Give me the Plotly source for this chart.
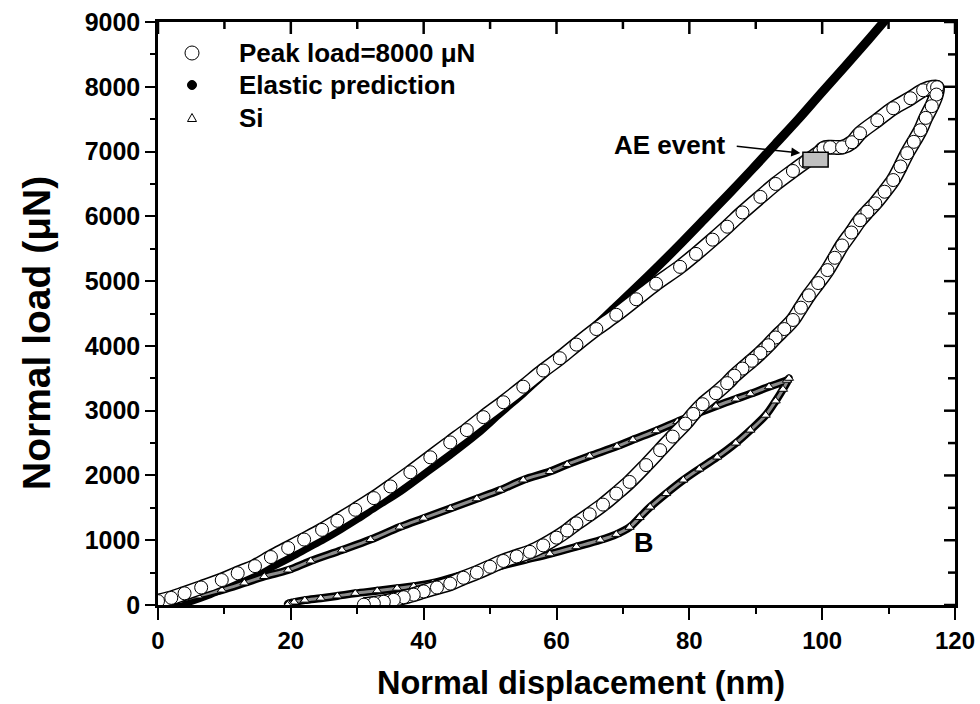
import plotly.graph_objects as go

# ---------------- data ----------------
elastic_x = [1, 3, 5, 7.5, 10, 12.5, 15, 17.5, 20, 22.5, 25, 27.5, 30, 33, 36.4, 40, 44, 48, 51.5, 55, 58,
             61.6, 65, 68.5, 72, 75.5, 79, 82.5, 86, 89.5, 93, 96.5, 100, 103.5, 107, 110.5]
elastic_y = [0, 10, 70, 160, 270, 380, 500, 620, 750, 890, 1030, 1180, 1340, 1540, 1760, 2030, 2330, 2650,
             2970, 3280, 3560, 3890, 4220, 4560, 4900, 5250, 5610, 5980, 6350, 6730, 7120, 7510, 7920,
             8320, 8730, 9150]

peak_load_x = [0, 2, 4, 6.5, 9.6, 12, 14.6, 17, 19.6, 22, 24.7, 27, 29.7, 32.5, 35, 38, 41, 44, 46.5, 49,
               52, 55, 58, 60.5, 63, 66, 69, 72, 75, 78.6, 81, 83.5, 85.7, 88, 90.7, 93, 95.6, 97.5,
               98.8, 99.6, 100.2, 101.2, 103.0, 104.5, 105.7, 108.3, 110.7, 113.3, 115.2, 116.7, 117.3,
               117.2, 116.5, 115.6, 114.8, 113.8, 112.8, 111.8, 110.7, 109.4, 108, 106.8, 105.7, 104.4, 103,
               101.9, 100.8, 99.4, 98, 96.8, 95.6, 94.3, 93, 91.9, 90.7, 89.4, 88, 86.8, 85.7, 84, 82, 80.6,
               79.4, 77.5, 75.6, 73.5, 71, 69, 67, 65, 63, 61.6, 60, 58, 56, 54, 52, 50, 48, 46, 44, 42, 40,
               38.5, 37, 35.5, 34, 32.5, 31]
peak_load_y = [60, 110, 180, 270, 385, 490, 600, 740, 880, 1010, 1160, 1300, 1470, 1650, 1830, 2050, 2280, 2510,
               2700, 2900, 3130, 3370, 3620, 3810, 4020, 4260, 4480, 4720, 4960, 5220, 5420, 5640, 5840, 6060,
               6300, 6500, 6700, 6840, 6930, 6990, 7050, 7067, 7067, 7144, 7283, 7484, 7669, 7823, 7946, 7993,
               7993, 7880, 7700, 7520, 7330, 7150, 6975, 6770, 6560, 6380, 6200, 6070, 5940, 5750, 5550,
               5360, 5170, 4970, 4780, 4590, 4400, 4260, 4130, 4010, 3890, 3770, 3650, 3540, 3425, 3270, 3100,
               2950, 2800, 2600, 2390, 2160, 1900, 1720, 1550, 1400, 1260, 1150, 1040, 920, 820, 750, 680,
               590, 500, 420, 330, 270, 210, 160, 120, 80, 50, 25, 5]

si_x = [0, 3, 6, 9.6, 13, 16, 19.6, 23, 27.7, 32, 36.4, 40, 44, 48, 51.5, 55, 59, 61.6, 65, 69.1, 71.5,
        75, 78.2, 81, 84, 87, 89.2, 92, 94.7, 95,
        94.1, 93, 91.5, 89.2, 87, 84.2, 81.5, 79.1, 76.5, 74.1, 72.5, 71, 69, 66.6, 63, 59, 55, 51.5, 48,
        45, 41.4, 38.5, 36, 33, 29.7, 27, 24.5, 22.1, 20.5, 19.6, 19.5]
si_y = [0, 60, 140, 231, 340, 440, 540, 680, 849, 1010, 1204, 1340, 1490, 1640, 1774, 1930, 2060, 2170,
        2300, 2450, 2550, 2690, 2830, 2950, 3070, 3180, 3260, 3370, 3470, 3500,
        3330, 3150, 2930, 2700, 2500, 2284, 2100, 1929, 1720, 1512, 1350, 1200, 1090, 1003, 900, 790, 690,
        600, 510, 440, 340, 290, 260, 220, 180, 140, 105, 75, 45, 20, 0]

x_ticks = [0, 20, 40, 60, 80, 100, 120]
y_ticks = [0, 1000, 2000, 3000, 4000, 5000, 6000, 7000, 8000, 9000]

legend_labels = ["Peak load=8000 μN", "Elastic prediction", "Si"]

ae_box_x = [97.1, 100.9]
ae_box_y = [6760, 6990]
ae_arrow_head = (96.7, 6977)
b_label_xy = (73.2, 957)

# ---------------- figure ----------------
FONT = "Liberation Sans, Arial, Helvetica, sans-serif"
L, R, T, B = 158, 25, 22, 99
W, H = 980, 704
PW, PH = W - L - R, H - T - B
X_RANGE = [x_ticks[0], x_ticks[-1]]
Y_RANGE = [y_ticks[0], y_ticks[-1]]


def px(xp):
    return (xp - L) / PW


def py(yp):
    return (H - B - yp) / PH


fig = go.Figure()

# elastic prediction: dense filled circles -> thick black band
fig.add_trace(go.Scatter(x=elastic_x, y=elastic_y, mode="lines", name="Elastic prediction",
                         line=dict(color="black", width=9, shape="spline"), showlegend=False, hoverinfo="skip"))

# Si (triangles)
fig.add_trace(go.Scatter(x=si_x, y=si_y, mode="lines", line=dict(color="black", width=8, shape="spline"),
                         showlegend=False, hoverinfo="skip"))
fig.add_trace(go.Scatter(x=si_x, y=si_y, mode="lines", line=dict(color="#8c8c8c", width=3, shape="spline"),
                         showlegend=False, hoverinfo="skip"))
fig.add_trace(go.Scatter(x=si_x, y=si_y, mode="markers", name="Si",
                         marker=dict(symbol="triangle-up", size=8, color="white", line=dict(color="black", width=1)),
                         showlegend=False))

# peak load (open circles)
fig.add_trace(go.Scatter(x=peak_load_x, y=peak_load_y, mode="lines",
                         line=dict(color="black", width=15, shape="spline"), showlegend=False, hoverinfo="skip"))
fig.add_trace(go.Scatter(x=peak_load_x, y=peak_load_y, mode="lines",
                         line=dict(color="white", width=12, shape="spline"), showlegend=False, hoverinfo="skip"))
fig.add_trace(go.Scatter(x=peak_load_x, y=peak_load_y, mode="markers", name="Peak load=8000 μN",
                         marker=dict(symbol="circle", size=13, color="white", line=dict(color="black", width=1)),
                         showlegend=False))

# mirrored inward ticks on the top and right frame edges, built from the tick arrays
x_minor = [(a + b) / 2 for a, b in zip(x_ticks, x_ticks[1:])]
y_minor = [(a + b) / 2 for a, b in zip(y_ticks, y_ticks[1:])]
ypp = (Y_RANGE[1] - Y_RANGE[0]) / PH   # data units per pixel (y)
xpp = (X_RANGE[1] - X_RANGE[0]) / PW   # data units per pixel (x)
tx, ty = [], []
for v, ln in [(t, 12) for t in x_ticks] + [(t, 7) for t in x_minor]:
    tx += [v, v, None]
    ty += [Y_RANGE[1], Y_RANGE[1] - ln * ypp, None]
for v, ln in [(t, 11) for t in y_ticks] + [(t, 7) for t in y_minor]:
    tx += [X_RANGE[1], X_RANGE[1] - ln * xpp, None]
    ty += [v, v, None]
fig.add_trace(go.Scatter(x=tx, y=ty, mode="lines", line=dict(color="black", width=2.5), connectgaps=False,
                         cliponaxis=False, showlegend=False, hoverinfo="skip"))

shapes = []
# AE event marker box
shapes.append(dict(type="rect", x0=ae_box_x[0], x1=ae_box_x[1], y0=ae_box_y[0], y1=ae_box_y[1],
                   xref="x", yref="y", fillcolor="#c0c0c0", line=dict(color="black", width=1.5), layer="above"))

# legend (symbols + labels)
leg_x_sym, leg_x_txt = 192, 237
leg_rows = [53, 85, 118]
shapes.append(dict(type="circle", xref="paper", yref="paper", xsizemode="pixel", ysizemode="pixel",
                   xanchor=px(leg_x_sym), yanchor=py(leg_rows[0]), x0=-7, x1=7, y0=-7, y1=7,
                   fillcolor="white", line=dict(color="black", width=1)))
shapes.append(dict(type="circle", xref="paper", yref="paper", xsizemode="pixel", ysizemode="pixel",
                   xanchor=px(leg_x_sym), yanchor=py(leg_rows[1]), x0=-4.5, x1=4.5, y0=-4.5, y1=4.5,
                   fillcolor="black", line=dict(color="black", width=1)))
shapes.append(dict(type="path", xref="paper", yref="paper", xsizemode="pixel", ysizemode="pixel",
                   xanchor=px(leg_x_sym), yanchor=py(leg_rows[2]),
                   path="M -4.5 -3.5 L 4.5 -3.5 L 0 4.5 Z",
                   fillcolor="white", line=dict(color="black", width=1)))

annotations = [
    dict(x=ae_arrow_head[0], y=ae_arrow_head[1], xref="x", yref="y", ax=-65, ay=-7, text="",
         showarrow=True, arrowhead=2, arrowsize=1.2, arrowwidth=1.5, arrowcolor="black"),
    dict(x=px(670), y=py(145), xref="paper", yref="paper", text="AE event", showarrow=False,
         font=dict(family=FONT, size=26, color="black", weight="bold"), xanchor="center", yanchor="middle"),
    dict(x=b_label_xy[0], y=b_label_xy[1], xref="x", yref="y", text="B", showarrow=False,
         font=dict(family=FONT, size=27, color="black", weight="bold"), xanchor="center", yanchor="middle"),
    dict(x=px(581), y=py(683), xref="paper", yref="paper", text="Normal displacement (nm)", showarrow=False,
         font=dict(family=FONT, size=32.5, color="black", weight="bold"), xanchor="center", yanchor="middle"),
    dict(x=px(36), y=py(333), xref="paper", yref="paper", text="Normal load (μN)", showarrow=False, textangle=-90,
         font=dict(family=FONT, size=39, color="black", weight="bold"), xanchor="center", yanchor="middle"),
]
for lab, row in zip(legend_labels, leg_rows):
    annotations.append(dict(x=px(leg_x_txt), y=py(row), xref="paper", yref="paper", text=lab, showarrow=False,
                            font=dict(family=FONT, size=26, color="black", weight="bold"),
                            xanchor="left", yanchor="middle"))

axis_common = dict(showgrid=False, zeroline=False, linecolor="black", linewidth=2.5, color="black")

fig.update_layout(
    width=W, height=H, margin=dict(l=L, r=R, t=T, b=B, autoexpand=False),
    paper_bgcolor="white", plot_bgcolor="white",
    font=dict(family=FONT, color="black"),
    showlegend=False,
    xaxis=dict(range=X_RANGE, tickvals=x_ticks, ticktext=[str(v) for v in x_ticks], ticks="outside",
               ticklen=12, tickwidth=2, mirror=True,
               minor=dict(tickvals=x_minor, ticks="outside", ticklen=6, tickwidth=2),
               tickfont=dict(family=FONT, size=24, color="black", weight="bold"), **axis_common),
    yaxis=dict(range=Y_RANGE, tickvals=y_ticks, ticktext=[str(v) for v in y_ticks], ticks="outside",
               ticklen=10, tickwidth=2, mirror=True,
               minor=dict(tickvals=y_minor, ticks="outside", ticklen=5, tickwidth=2),
               tickfont=dict(family=FONT, size=25, color="black", weight="bold"), **axis_common),
    shapes=shapes,
    annotations=annotations,
)

fig.write_html("out.html")
